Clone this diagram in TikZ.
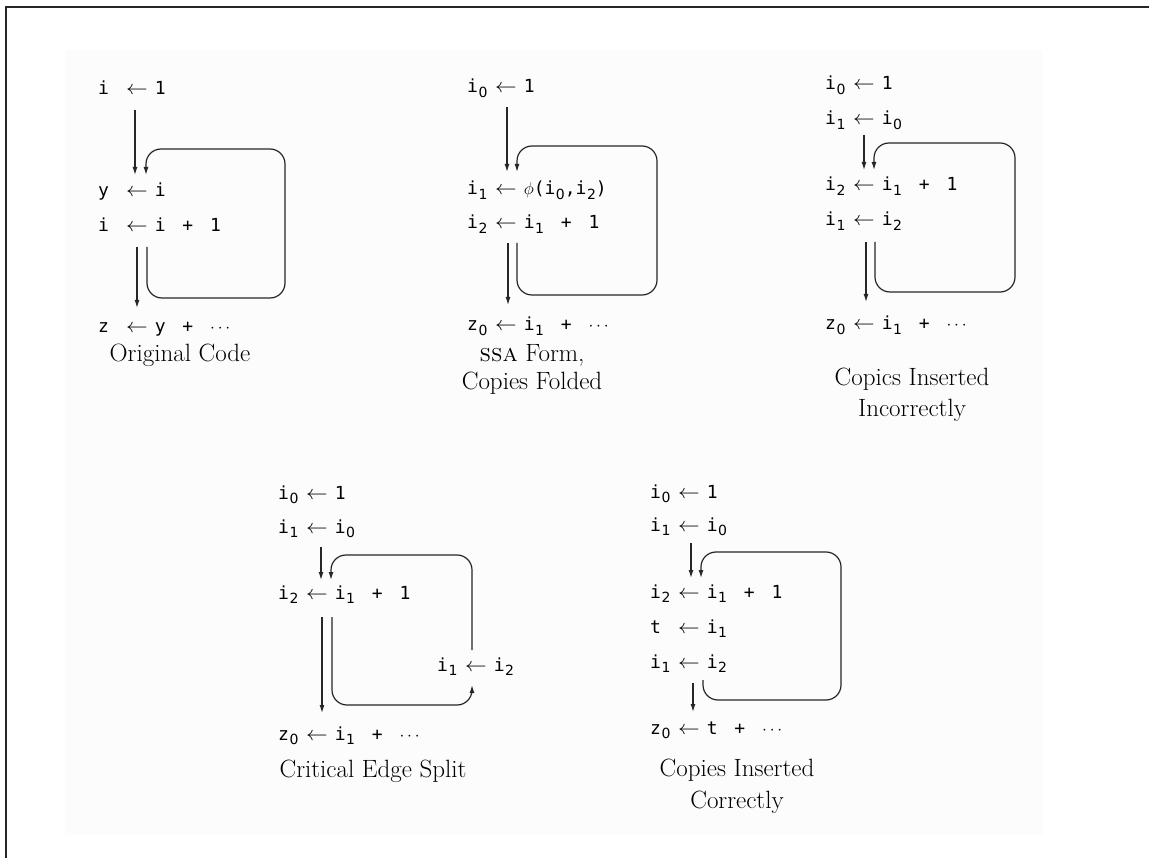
\documentclass[tikz,border=0pt]{standalone}
\usepackage{graphicx}
\usepackage{fontspec}
\setmonofont{DejaVu Sans Mono}
\newfontfamily\subfont{DejaVu Sans}
\usetikzlibrary{arrows.meta}
\newcommand\codefont{\fontsize{18}{22}\selectfont\ttfamily}
\newcommand\capfont{\fontsize{25}{30}\selectfont\rmfamily}
\newcommand\lhs[1]{\makebox[28pt][l]{#1}}
\newcommand\la{\scalebox{1.25}[1.15]{$\leftarrow$}\hspace{7pt}}
\newcommand\sbs[1]{\hspace{0.5pt}\raisebox{-4.5pt}{\fontsize{14}{16}\selectfont\subfont #1}}
\newcommand\gp{\hspace{6pt}}
\tikzset{
  code/.style={anchor=base west, inner sep=0pt, font=\codefont},
  captxt/.style={anchor=base, inner sep=0pt, font=\capfont},
  flow/.style={line width=1.2pt, draw=black!85, -{Latex[length=8pt,width=5pt]}},
  loopflow/.style={flow, rounded corners=15pt},
}
\begin{document}
\begin{tikzpicture}[x=1pt,y=-1pt]
\useasboundingbox (0,0) rectangle (1149,858);
\fill[white] (0,0) rectangle (1149,858);
\fill[black!1] (65,50) rectangle (1043,835);
\draw[line width=2pt, black!85] (6,858) -- (6,7) -- (1149,7);

% ---------- Panel 1: Original Code
\node[code] (a1) at (98,95) {\lhs{i }\la 1};
\node[code] (a2) at (98,197) {\lhs{y }\la i};
\node[code] (a3) at (98,232) {\lhs{i }\la i \gp+ \gp1};
\node[code] (a4) at (98,333) {\lhs{z }\la y \gp+ \gp$\cdots$};
\node[captxt] (acap) at (180,362) {Original Code};
\coordinate (a1s) at (135,110); \coordinate (a1e) at (135,175);
\coordinate (a2s) at (147,247); \coordinate (a2e) at (146,175);
\coordinate (a3s) at (137,247); \coordinate (a3e) at (137,308);
\draw[flow] (a1s) -- (a1e);
\draw[loopflow] (a2s) -- (147,298) -- (285,298) -- (285,149) -- (146,149) -- (a2e);
\draw[flow] (a3s) -- (a3e);

% ---------- Panel 2: SSA Form
\node[code] (b1) at (467,93) {\lhs{i\sbs{0}}\la 1};
\node[code] (b2) at (467,195) {\lhs{i\sbs{1}}\la$\phi$(i\sbs{0},i\sbs{2})};
\node[code] (b3) at (467,229) {\lhs{i\sbs{2}}\la i\sbs{1} \gp+ \gp1};
\node[code] (b4) at (467,331) {\lhs{z\sbs{0}}\la i\sbs{1} \gp+ \gp$\cdots$};
\node[captxt] (bcap1) at (532,362) {\textsc{ssa} Form,};
\node[captxt] (bcap2) at (532,390) {Copies Folded};
\coordinate (b1s) at (507,107); \coordinate (b1e) at (507,172);
\coordinate (b2s) at (517,243); \coordinate (b2e) at (517,172);
\coordinate (b3s) at (508,243); \coordinate (b3e) at (508,305);
\draw[flow] (b1s) -- (b1e);
\draw[loopflow] (b2s) -- (517,295) -- (657,295) -- (657,146) -- (517,146) -- (b2e);
\draw[flow] (b3s) -- (b3e);

% ---------- Panel 3: Copies Inserted Incorrectly
\node[code] (c1) at (825,90) {\lhs{i\sbs{0}}\la 1};
\node[code] (c2) at (825,125) {\lhs{i\sbs{1}}\la i\sbs{0}};
\node[code] (c3) at (825,191) {\lhs{i\sbs{2}}\la i\sbs{1} \gp+ \gp1};
\node[code] (c4) at (825,226) {\lhs{i\sbs{1}}\la i\sbs{2}};
\node[code] (c5) at (825,330) {\lhs{z\sbs{0}}\la i\sbs{1} \gp+ \gp$\cdots$};
\node[captxt] (ccap1) at (912,386) {Copics Inserted};
\node[captxt] (ccap2) at (912,417) {Incorrectly};
\coordinate (c1s) at (864,135); \coordinate (c1e) at (864,170);
\coordinate (c2s) at (875,242); \coordinate (c2e) at (874,170);
\coordinate (c3s) at (866,242); \coordinate (c3e) at (866,302);
\draw[flow] (c1s) -- (c1e);
\draw[loopflow] (c2s) -- (875,292) -- (1015,292) -- (1015,143) -- (874,143) -- (c2e);
\draw[flow] (c3s) -- (c3e);

% ---------- Panel 4: Critical Edge Split
\node[code] (d1) at (278,499) {\lhs{i\sbs{0}}\la 1};
\node[code] (d2) at (278,533) {\lhs{i\sbs{1}}\la i\sbs{0}};
\node[code] (d3) at (278,599) {\lhs{i\sbs{2}}\la i\sbs{1} \gp+ \gp1};
\node[code] (d4) at (278,740) {\lhs{z\sbs{0}}\la i\sbs{1} \gp+ \gp$\cdots$};
\node[code] (d5) at (437,671) {\lhs{i\sbs{1}}\la i\sbs{2}};
\node[captxt] (dcap) at (373,777) {Critical Edge Split};
\coordinate (d1s) at (321,547); \coordinate (d1e) at (321,580);
\coordinate (d5t) at (472,650); \coordinate (d2e) at (331,580);
\coordinate (d3s) at (332,617); \coordinate (d5b) at (472,685);
\coordinate (d4s) at (322,617); \coordinate (d4e) at (322,713);
\draw[flow] (d1s) -- (d1e);
\draw[loopflow] (d5t) -- (472,555) -- (331,555) -- (d2e);
\draw[loopflow] (d3s) -- (332,705) -- (472,705) -- (d5b);
\draw[flow] (d4s) -- (d4e);

% ---------- Panel 5: Copies Inserted Correctly
\node[code] (e1) at (650,498) {\lhs{i\sbs{0}}\la 1};
\node[code] (e2) at (650,531) {\lhs{i\sbs{1}}\la i\sbs{0}};
\node[code] (e3) at (650,598) {\lhs{i\sbs{2}}\la i\sbs{1} \gp+ \gp1};
\node[code] (e4) at (650,633) {\lhs{t}\la i\sbs{1}};
\node[code] (e5) at (650,668) {\lhs{i\sbs{1}}\la i\sbs{2}};
\node[code] (e6) at (650,734) {\lhs{z\sbs{0}}\la t \gp+ \gp$\cdots$};
\node[captxt] (ecap1) at (737,776) {Copies Inserted};
\node[captxt] (ecap2) at (737,808) {Correctly};
\coordinate (e1s) at (691,543); \coordinate (e1e) at (691,578);
\coordinate (e2s) at (703,680); \coordinate (e2e) at (701,578);
\coordinate (e3s) at (693,683); \coordinate (e3e) at (693,712);
\draw[flow] (e1s) -- (e1e);
\draw[loopflow] (e2s) -- (703,700) -- (841,700) -- (841,552) -- (701,552) -- (e2e);
\draw[flow] (e3s) -- (e3e);
\end{tikzpicture}
\end{document}
